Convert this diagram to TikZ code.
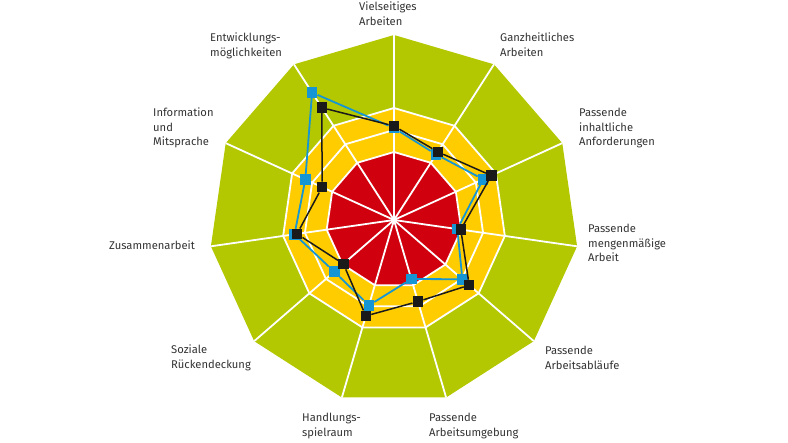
\documentclass[tikz,border=0pt]{standalone}
\usepackage{fontspec}
\setmainfont{Fira Sans}
\usetikzlibrary{positioning, calc}

\definecolor{gruen}{HTML}{B3C800}
\definecolor{gelb}{HTML}{FFCC00}
\definecolor{rot}{HTML}{D1000F}
\definecolor{blau}{HTML}{1595D3}
\definecolor{schwarz}{HTML}{1A1A1A}
\definecolor{schrift}{HTML}{333333}

\begin{document}
\begin{tikzpicture}[x=1pt, y=1pt,
  label/.style={anchor=west, align=left, inner sep=0pt, text=schrift, font=\fontsize{11.2}{14.7}\selectfont},
  ring/.style={draw=white, line width=1.8pt},
  speiche/.style={white, line width=1.8pt},
  kasten/.style={rectangle, minimum size=10.5pt, inner sep=0pt},
  linie/.style={line width=1.8pt}]
\useasboundingbox (-394,-223) rectangle (394,220);

% Flaechen
\fill[gruen] (90:185) \foreach \k in {1,...,10} {-- ({90-\k*360/11}:185)} -- cycle;
\fill[gelb] (90:112) \foreach \k in {1,...,10} {-- ({90-\k*360/11}:112)} -- cycle;
\fill[rot] (90:68) \foreach \k in {1,...,10} {-- ({90-\k*360/11}:68)} -- cycle;
\draw[ring] (90:112) \foreach \k in {1,...,10} {-- ({90-\k*360/11}:112)} -- cycle;
\draw[ring] (90:90) \foreach \k in {1,...,10} {-- ({90-\k*360/11}:90)} -- cycle;
\draw[ring] (90:68) \foreach \k in {1,...,10} {-- ({90-\k*360/11}:68)} -- cycle;
\coordinate (m) at (0,0);
\foreach \k in {0,...,10} \draw[speiche] (m) -- ({90-\k*360/11}:185);
\fill[white] (m) circle (3);

% Beschriftungen
\node (l0) [label] at (-35,206) {Vielseitiges\\Arbeiten};
\node (l1) [label] at (106,175) {Ganzheitliches\\Arbeiten};
\node (l2) [label] at (185,92) {Passende\\inhaltliche\\Anforderungen};
\node (l3) [label] at (194,-23) {Passende\\mengenmäßige\\Arbeit};
\node (l4) [label] at (151,-138) {Passende\\Arbeitsabläufe};
\node (l5) [label] at (35,-206) {Passende\\Arbeitsumgebung};
\node (l6) [label] at (-92,-206) {Handlungs-\\spielraum};
\node (l7) [label] at (-223,-138) {Soziale\\Rückendeckung};
\node (l8) [label, anchor=east] at (-199,-25) {Zusammenarbeit};
\node (l9) [label] at (-241,92) {Information\\und\\Mitsprache};
\node (l10) [label] at (-184,174) {Entwicklungs-\\möglichkeiten};

% blaue Werte
\foreach \r [count=\k from 0] in {92,78,98,64,90.5,61.5,89,79,100.5,97.5,151.5}
  \node (b\k) [kasten, fill=blau] at ({90-\k*360/11}:\r) {};
\draw[linie, blau] (b0) -- (b1) -- (b2) -- (b3) -- (b4) -- (b5) -- (b6) -- (b7) -- (b8) -- (b9) -- (b10) -- (b0);

% schwarze Werte
\foreach \r [count=\k from 0] in {94,81,107,67.5,99.5,85,100,67,98,79,133.5}
  \node (k\k) [kasten, fill=schwarz] at ({90-\k*360/11}:\r) {};
\draw[linie, schwarz, line width=1.5pt] (k0) -- (k1) -- (k2) -- (k3) -- (k4) -- (k5) -- (k6) -- (k7) -- (k8) -- (k9) -- (k10) -- (k0);
\end{tikzpicture}
\end{document}
